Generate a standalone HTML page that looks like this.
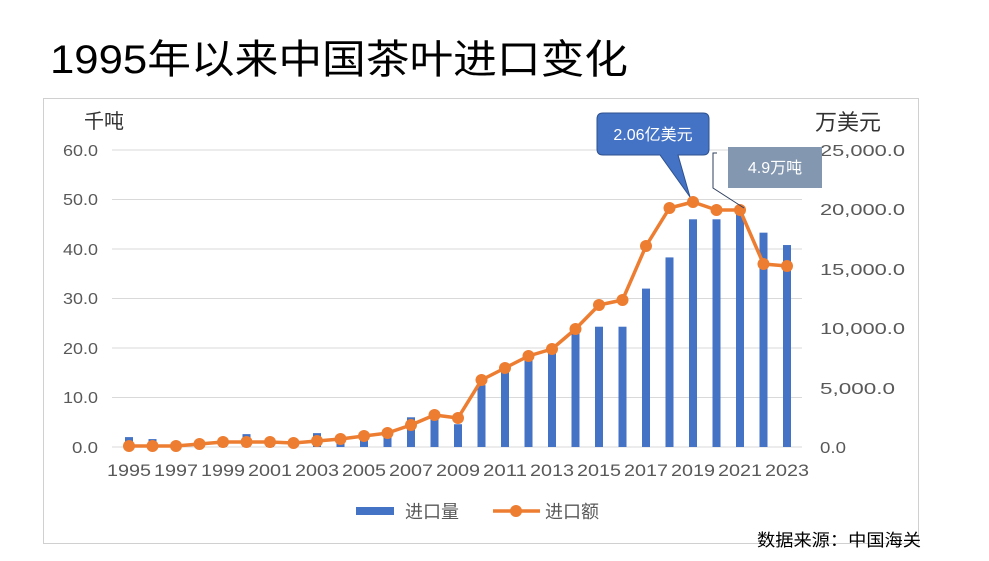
<!DOCTYPE html>
<html><head><meta charset="utf-8"><style>
body{margin:0;width:989px;height:556px;background:#fff;overflow:hidden;font-family:"Liberation Sans","Noto Sans CJK SC",sans-serif}
svg text{font-family:"Liberation Sans","Noto Sans CJK SC",sans-serif}
</style></head><body>
<svg width="989" height="556" xmlns="http://www.w3.org/2000/svg">
<text x="50" y="73" font-size="40" fill="#000" textLength="578" lengthAdjust="spacingAndGlyphs">1995年以来中国茶叶进口变化</text>
<rect x="43.5" y="98.5" width="875" height="445" fill="#fff" stroke="#d0d0d0"/>
<g stroke="#d9d9d9" stroke-width="1">
<line x1="112" x2="802" y1="150" y2="150"/><line x1="112" x2="802" y1="199.5" y2="199.5"/>
<line x1="112" x2="802" y1="249" y2="249"/><line x1="112" x2="802" y1="298.5" y2="298.5"/>
<line x1="112" x2="802" y1="348" y2="348"/><line x1="112" x2="802" y1="397.5" y2="397.5"/>
<line x1="112" x2="802" y1="447" y2="447"/>
</g>
<g font-size="16" fill="#595959" text-anchor="end">
<text x="98" y="156" textLength="35" lengthAdjust="spacingAndGlyphs">60.0</text><text x="98" y="205" textLength="35" lengthAdjust="spacingAndGlyphs">50.0</text><text x="98" y="255" textLength="35" lengthAdjust="spacingAndGlyphs">40.0</text>
<text x="98" y="304" textLength="35" lengthAdjust="spacingAndGlyphs">30.0</text><text x="98" y="354" textLength="35" lengthAdjust="spacingAndGlyphs">20.0</text><text x="98" y="403" textLength="35" lengthAdjust="spacingAndGlyphs">10.0</text><text x="98" y="453" textLength="26" lengthAdjust="spacingAndGlyphs">0.0</text>
</g>
<g font-size="16" fill="#595959" text-anchor="start">
<text x="820" y="156" textLength="85" lengthAdjust="spacingAndGlyphs">25,000.0</text><text x="820" y="215" textLength="85" lengthAdjust="spacingAndGlyphs">20,000.0</text><text x="820" y="275" textLength="85" lengthAdjust="spacingAndGlyphs">15,000.0</text>
<text x="820" y="334" textLength="85" lengthAdjust="spacingAndGlyphs">10,000.0</text><text x="820" y="394" textLength="75" lengthAdjust="spacingAndGlyphs">5,000.0</text><text x="820" y="453" textLength="26" lengthAdjust="spacingAndGlyphs">0.0</text>
</g>
<text x="84" y="128" font-size="20" fill="#333">千吨</text>
<text x="815" y="130" font-size="22" fill="#333">万美元</text>
<g id="bars" fill="#4472c4"></g>
<polyline id="ln" fill="none" stroke="#ed7d31" stroke-width="3.5" stroke-linejoin="round"/>
<g id="dots" fill="#ed7d31"></g>
<g id="xl" font-size="17" fill="#595959" text-anchor="middle"></g>
<path d="M603,113 H703 Q709,113 709,119 V149 Q709,155 703,155 H678 L690,197 L660,155 H603 Q597,155 597,149 V119 Q597,113 603,113 Z" fill="#4472c4" stroke="#2f528f"/>
<text x="653" y="140" font-size="16" fill="#fff" text-anchor="middle">2.06亿美元</text>
<polyline points="717,153 713,153 713,188 744,208" fill="none" stroke="#2f3f5f" stroke-width="1"/>
<rect x="728" y="147" width="94" height="41" fill="#8497b0"/>
<text x="775" y="173" font-size="16" fill="#fff" text-anchor="middle">4.9万吨</text>
<rect x="356" y="507" width="38" height="8" fill="#4472c4"/>
<text x="405" y="518" font-size="18" fill="#595959">进口量</text>
<line x1="493" x2="540" y1="511" y2="511" stroke="#ed7d31" stroke-width="3.5"/>
<circle cx="516" cy="511" r="6" fill="#ed7d31"/>
<text x="545" y="518" font-size="18" fill="#595959">进口额</text>
<text x="757" y="546" font-size="17" fill="#000" textLength="164" lengthAdjust="spacingAndGlyphs">数据来源：中国海关</text>
</svg>
<script>
var bars=[2.0,1.6,0.5,0.9,1.0,2.6,1.2,1.0,2.8,1.8,2.2,2.5,6.0,6.0,4.6,12.5,15.5,19.0,19.5,23.0,24.3,24.3,32.0,38.3,46.0,46.0,48.5,43.3,40.8];
var ys=[446,446,446,444,442,442,442,443,441,439,436,433,425,415,418,380,368,356,349,329,305,300,246,208,202,210,210,264,266];
var b='',d='',p=[],x='';
for(var i=0;i<29;i++){var cx=129+i*23.5;var h=bars[i]*4.95;
b+='<rect x="'+(cx-4)+'" y="'+(447-h)+'" width="8" height="'+h+'"/>';
p.push(cx+','+ys[i]);d+='<circle cx="'+cx+'" cy="'+ys[i]+'" r="6"/>';
if(i%2==0)x+='<text x="'+cx+'" y="476" textLength="44" lengthAdjust="spacingAndGlyphs">'+(1995+i)+'</text>';}
document.getElementById('bars').innerHTML=b;document.getElementById('dots').innerHTML=d;
document.getElementById('ln').setAttribute('points',p.join(' '));document.getElementById('xl').innerHTML=x;
</script>
</body></html>
